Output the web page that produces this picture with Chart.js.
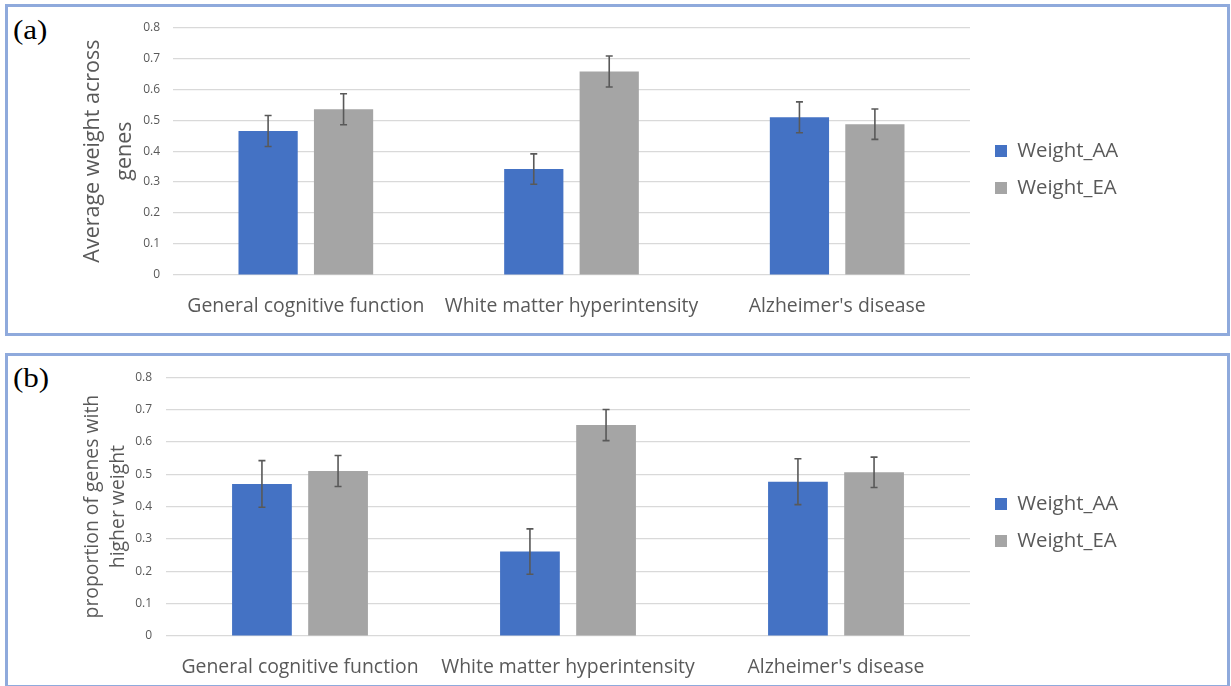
<!DOCTYPE html>
<html>
<head>
<meta charset="utf-8">
<script src="https://cdn.jsdelivr.net/npm/chart.js@4.4.1/dist/chart.umd.min.js"></script>
<style>
  html, body { margin: 0; padding: 0; background: #ffffff; width: 1231px; height: 686px; overflow: hidden; }
  .panel { position: absolute; border: 3px solid #8faadc; box-sizing: border-box; background: #fff; }
  .panel canvas { position: absolute; left: 0; top: 0; }
  .tag { position: absolute; font-family: "Liberation Serif", "Times New Roman", serif; font-size: 27px; color: #000;
         line-height: 1; transform: scaleX(1.15); transform-origin: left top; }
</style>
</head>
<body>
<div class="panel" id="panelA" style="left:5px; top:4px; width:1225px; height:332px;">
  <div class="tag" style="left:5px; top:10px;">(a)</div>
  <canvas id="chartA" width="1219" height="326"></canvas>
</div>
<div class="panel" id="panelB" style="left:5px; top:353px; width:1225px; height:335px;">
  <div class="tag" style="left:5px; top:9px;">(b)</div>
  <canvas id="chartB" width="1219" height="329"></canvas>
</div>
<script>
// Trait categories shared by both panels
const categories = ['General cognitive function', 'White matter hyperintensity', "Alzheimer's disease"];
const seriesNames = ['Weight_AA', 'Weight_EA'];

// (a) average weight across genes, with error bar half-widths
const avgWeightAA = [0.465, 0.342, 0.509];
const avgWeightEA = [0.535, 0.657, 0.487];
const avgWeightAAErr = [0.050, 0.049, 0.050];
const avgWeightEAErr = [0.050, 0.050, 0.049];

// (b) proportion of genes with higher weight, with error bar half-widths
const propHigherAA = [0.470, 0.261, 0.477];
const propHigherEA = [0.510, 0.652, 0.506];
const propHigherAAErr = [0.072, 0.070, 0.071];
const propHigherEAErr = [0.048, 0.048, 0.047];

// Value axis ticks
const yTickValues = [0, 0.1, 0.2, 0.3, 0.4, 0.5, 0.6, 0.7, 0.8];

const BLUE = '#4472c4';
const GREY = '#a5a5a5';
const TEXT = '#595959';
const FONT = '"Open Sans", "Noto Sans", sans-serif';

// Draws the error whiskers on each bar from the dataset's "errors" array
const errorBars = {
  id: 'errorBars',
  afterDatasetsDraw(chart) {
    const ctx = chart.ctx;
    const y = chart.scales.y;
    ctx.save();
    ctx.strokeStyle = '#595959';
    ctx.lineWidth = 1.6;
    chart.data.datasets.forEach((ds, di) => {
      const meta = chart.getDatasetMeta(di);
      meta.data.forEach((bar, i) => {
        const v = ds.data[i], e = ds.errors[i];
        const yTop = y.getPixelForValue(v + e);
        const yBot = y.getPixelForValue(v - e);
        const cap = 3.5;
        ctx.beginPath();
        ctx.moveTo(bar.x, yTop); ctx.lineTo(bar.x, yBot);
        ctx.moveTo(bar.x - cap, yTop); ctx.lineTo(bar.x + cap, yTop);
        ctx.moveTo(bar.x - cap, yBot); ctx.lineTo(bar.x + cap, yBot);
        ctx.stroke();
      });
    });
    ctx.restore();
  }
};

// Fixed legend width (so the plot area ends at a set place) and a vertical nudge
const legendBox = {
  id: 'legendBox',
  afterInit(chart, args, opts) {
    const lg = chart.legend;
    if (!lg || lg._fixedWidth) return;
    const fit = lg.fit.bind(lg);
    lg.fit = function () { fit(); this.width = opts.width; };
    lg._fixedWidth = true;
  },
  afterLayout(chart, args, opts) {
    const lg = chart.legend;
    if (!lg) return;
    lg.top += opts.dy;
    lg.bottom += opts.dy;
  }
};

function makeChart(id, aa, ea, aaErr, eaErr, cfg) {
  return new Chart(document.getElementById(id), {
    type: 'bar',
    data: {
      labels: categories,
      datasets: [
        { label: seriesNames[0], data: aa, errors: aaErr, backgroundColor: BLUE, borderWidth: 0,
          categoryPercentage: 0.568, barPercentage: 0.785 },
        { label: seriesNames[1], data: ea, errors: eaErr, backgroundColor: GREY, borderWidth: 0,
          categoryPercentage: 0.568, barPercentage: 0.785 }
      ]
    },
    plugins: [errorBars, legendBox],
    options: {
      responsive: false,
      animation: false,
      layout: { padding: { top: cfg.padTop, bottom: 0, left: 0, right: 0 } },
      plugins: {
        tooltip: { enabled: false },
        legendBox: { width: 248.6, dy: cfg.legendDy },
        legend: {
          position: 'right',
          align: 'center',
          labels: {
            boxWidth: 12, boxHeight: 12, padding: 16.6, color: TEXT,
            font: { family: FONT, size: 20.4 }
          }
        }
      },
      scales: {
        x: {
          grid: { display: false },
          border: { display: false },
          ticks: { color: TEXT, padding: cfg.xTickPad, maxRotation: 0, autoSkip: false,
                   font: { family: FONT, size: 19.4 } },
          afterFit(s) { s.height = cfg.xHeight; }
        },
        y: {
          min: 0, max: 0.8,
          afterBuildTicks(s) { s.ticks = yTickValues.map(v => ({ value: v })); },
          grid: { color: '#d9d9d9', lineWidth: 1.2, drawTicks: false },
          border: { display: false },
          ticks: { color: TEXT, padding: cfg.yTickPad, font: { family: FONT, size: 12 },
                   callback: v => (v === 0 ? '0' : v.toFixed(1)) },
          title: {
            display: true, text: cfg.title, color: TEXT,
            font: { family: FONT, size: cfg.titleSize, lineHeight: cfg.titleLH },
            padding: { top: cfg.titlePad, bottom: 0 }
          },
          afterFit(s) { s.width = cfg.yWidth; }
        },
        gap: {
          type: 'linear', position: 'right', display: true,
          grid: { display: false }, border: { display: false }, ticks: { display: false },
          afterFit(s) { s.width = 8.4; }
        }
      }
    }
  });
}

makeChart('chartA', avgWeightAA, avgWeightEA, avgWeightAAErr, avgWeightEAErr, {
  padTop: 20, xHeight: 58, xTickPad: 12, yTickPad: 13, yWidth: 165, legendDy: -10.5,
  title: ['Average weight across', 'genes'], titleSize: 21.5, titleLH: 1.49, titlePad: 69
});

makeChart('chartB', propHigherAA, propHigherEA, propHigherAAErr, propHigherEAErr, {
  padTop: 17, xHeight: 49, xTickPad: 12, yTickPad: 14, yWidth: 158, legendDy: -6.5,
  title: ['proportion of genes with', 'higher weight'], titleSize: 19.4, titleLH: 1.34, titlePad: 71
});
</script>
</body>
</html>
